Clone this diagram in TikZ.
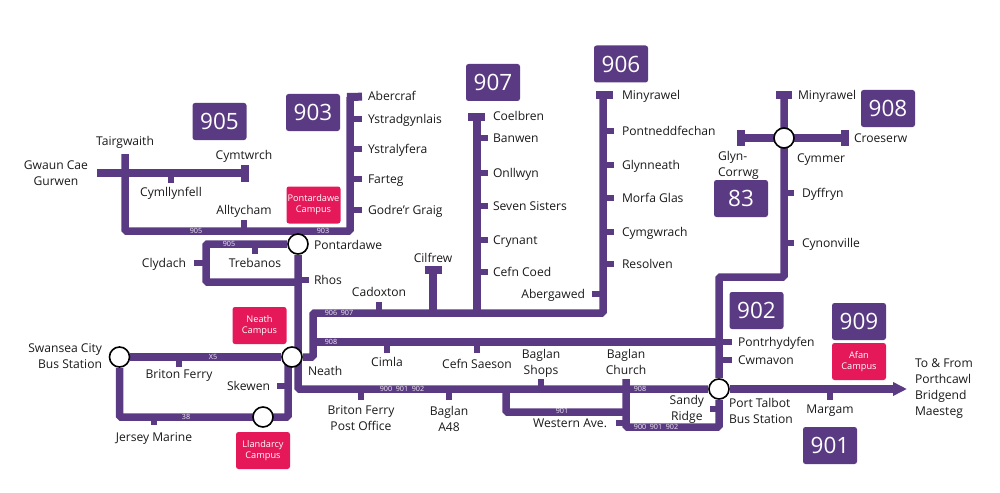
\documentclass[tikz,border=0pt]{standalone}
\usepackage{fontspec}
\setmainfont{Open Sans}
\usetikzlibrary{positioning,arrows.meta,backgrounds}
\definecolor{bus}{HTML}{5A3A82}
\definecolor{college}{HTML}{E5185A}
\definecolor{tiny}{HTML}{F2EEF7}
\begin{document}
\begin{tikzpicture}[x=1pt,y=-1pt,>=stealth]
\tikzstyle{place}=[font=\fontsize{12.1}{16}\selectfont,text height=10.5pt,text depth=1pt,inner xsep=6pt,inner ysep=2.5pt,outer sep=0pt,text=black!90]
\tikzstyle{twolines}=[font=\fontsize{12.1}{16}\selectfont,align=center,inner xsep=6pt,inner ysep=1pt,outer sep=0pt,text=black!90]
\tikzstyle{stop}=[circle,draw=black,line width=1.6pt,fill=white,minimum size=20pt,inner sep=0pt]
\tikzstyle{busno}=[fill=bus,text=white,rounded corners=2.5pt,minimum width=54pt,minimum height=37pt,inner sep=0pt,font=\fontsize{22.5}{22}\selectfont]
\tikzstyle{campus}=[fill=college,text=white,rounded corners=2.5pt,minimum width=54pt,minimum height=37pt,inner sep=0pt,align=center,font=\fontsize{9.2}{11}\selectfont]
\tikzstyle{small}=[text=tiny,inner sep=0pt,font=\fontsize{7.2}{7}\selectfont]
\tikzstyle{route}=[draw=bus,line width=7.5pt,rounded corners=1.5pt]
\tikzstyle{stub}=[draw=bus,line width=5.5pt]
\tikzstyle{bar}=[draw=bus,line width=8pt]
\useasboundingbox (0,0) rectangle (1000,492);
% route numbers
\node[busno] (b905) at (219.5,121.5) {905};
\node[busno] (b903) at (313,112.5) {903};
\node[busno] (b907) at (493,82.5) {907};
\node[busno] (b906) at (621,64) {906};
\node[busno] (b908) at (888,108.5) {908};
\node[busno] (b83) at (741,198.5) {83};
\node[busno] (b902) at (756.5,310.5) {902};
\node[busno] (b909) at (859,321.5) {909};
\node[busno] (b901) at (830,445.5) {901};
% campuses
\node[campus] (pontcampus) at (313.5,205) {Pontardawe\\Campus};
\node[campus] (neathcampus) at (259.5,325.5) {Neath\\Campus};
\node[campus] (llancampus) at (263,450.5) {Llandarcy\\Campus};
\node[campus] (afancampus) at (859,361.5) {Afan\\Campus};
% interchanges
\node[stop] (pontardawe) at (298,244) {};
\node[stop] (neath) at (292,357) {};
\node[stop] (swansea) at (119.5,357) {};
\node[stop] (llandarcy) at (263,417) {};
\node[stop] (porttalbot) at (719,389) {};
\node[stop] (cymmer) at (784,138) {};
% corners of the lines
\coordinate (tairfoot) at (125,231);
\coordinate (aberfoot) at (350,231);
\coordinate (abertop) at (350,97);
\coordinate (cymtwrch) at (245,173);
\coordinate (loopa) at (206,244);
\coordinate (loopb) at (206,282);
\coordinate (loopc) at (298,282);
\coordinate (spinefoot) at (298,389);
\coordinate (swanfoot) at (119.5,417);
\coordinate (neathfoot) at (288,417);
\coordinate (neathtop) at (288,358);
\coordinate (bendlow) at (313,357);
\coordinate (bendhigh) at (313,313);
\coordinate (foot906) at (603,313);
\coordinate (top906) at (603,95);
\coordinate (top907) at (477,117);
\coordinate (topcilfrew) at (433,270);
\coordinate (left908) at (313,342);
\coordinate (right908) at (719,342);
\coordinate (bendb) at (719,277);
\coordinate (bendc) at (784,277);
\coordinate (topcymmer) at (784,95);
\coordinate (glyn) at (741,138);
\coordinate (croes) at (845,138);
\coordinate (shopa) at (506,389);
\coordinate (shopb) at (506,412);
\coordinate (shopc) at (626,412);
\coordinate (churchfoot) at (626,427);
\coordinate (talbotfoot) at (719,427);
\coordinate (arrowend) at (907,389);
% places on 905 and 903
\node[place,anchor=south,inner ysep=7.25pt] (tairgwaith) at (125,154) {Tairgwaith};
\node[twolines,anchor=east,inner xsep=9pt] (gwaun) at (97,173) {Gwaun Cae\\Gurwen};
\node[place,anchor=north] (cymllynfell) at (171,183) {Cymllynfell};
\node[place] (cymtwrchl) at (244,155) {Cymtwrch};
\node[place,anchor=south,inner ysep=4.5pt] (alltycham) at (244,220) {Alltycham};
\node[place,anchor=west] (abercraf) at (362,96) {Abercraf};
\node[place,anchor=west] (ystradgynlais) at (362,119) {Ystradgynlais};
\node[place,anchor=west] (ystralyfera) at (362,149) {Ystralyfera};
\node[place,anchor=west] (farteg) at (362,179) {Farteg};
\node[place,anchor=west] (godre) at (362,210) {Godre’r Graig};
\node[place,anchor=west,inner xsep=16pt] at (298,245) (pontl) {Pontardawe};
\node[place,anchor=north] (trebanos) at (255,254) {Trebanos};
\node[place,anchor=east,inner xsep=8pt] (clydach) at (194,263) {Clydach};
\node[place,anchor=west,inner xsep=5pt] (rhos) at (309,280) {Rhos};
% places on 906 and 907
\node[place,anchor=south,inner ysep=4.5pt] (cadoxton) at (379,302) {Cadoxton};
\node[place] (cilfrew) at (433,258) {Cilfrew};
\node[place,anchor=west,inner xsep=5pt] (coelbren) at (488,116) {Coelbren};
\node[place,anchor=west,inner xsep=5pt] (banwen) at (488,138) {Banwen};
\node[place,anchor=west,inner xsep=5pt] (onllwyn) at (488,173) {Onllwyn};
\node[place,anchor=west,inner xsep=5pt] (seven) at (488,206) {Seven Sisters};
\node[place,anchor=west,inner xsep=5pt] (crynant) at (488,240) {Crynant};
\node[place,anchor=west,inner xsep=5pt] (cefncoed) at (488,272) {Cefn Coed};
\node[place,anchor=west,inner xsep=8pt] (minya) at (614,95) {Minyrawel};
\node[place,anchor=west,inner xsep=8pt] (pontned) at (614,131) {Pontneddfechan};
\node[place,anchor=west,inner xsep=8pt] (glynneath) at (614,165) {Glynneath};
\node[place,anchor=west,inner xsep=8pt] (morfa) at (614,198) {Morfa Glas};
\node[place,anchor=west,inner xsep=8pt] (cymgwrach) at (614,232) {Cymgwrach};
\node[place,anchor=west,inner xsep=8pt] (resolven) at (614,264) {Resolven};
\node[place,anchor=east,inner xsep=7pt] (abergawed) at (592,294) {Abergawed};
% places on 908 and 902
\node[place,anchor=west] (pontrhydyfen) at (732,342) {Pontrhydyfen};
\node[place,anchor=west] (cwmavon) at (732,360) {Cwmavon};
\node[place,anchor=north] (cimla) at (387,353) {Cimla};
\node[place,anchor=north,inner ysep=5pt] (cefnsaeson) at (477,353) {Cefn Saeson};
\node[place,anchor=west,inner xsep=8pt] (dyffryn) at (794,193) {Dyffryn};
\node[place,anchor=west,inner xsep=8pt] (cynonville) at (794,243) {Cynonville};
\node[place,anchor=west,inner xsep=0pt] (minyb) at (798,95) {Minyrawel};
\node[place,anchor=west,inner xsep=0pt] (croeserw) at (854,138) {Croeserw};
\node[place,anchor=west,inner xsep=0pt] (cymmerl) at (797,158) {Cymmer};
\node[twolines,anchor=north west,align=left,inner xsep=0pt] (glyncorrwg) at (718,150) {Glyn-\\Corrwg};
% places at the bottom
\node[twolines,anchor=east,align=right,inner xsep=0pt] (swanl) at (102,356) {Swansea City\\Bus Station};
\node[place,anchor=north,inner ysep=1pt] (britonferry) at (179,367) {Briton Ferry};
\node[place,anchor=north,inner ysep=6pt] (jersey) at (154,425) {Jersey Marine};
\node[place,anchor=east,inner xsep=7pt] (skewen) at (277,386) {Skewen};
\node[place,anchor=west,inner xsep=0pt] (neathl) at (308,371) {Neath};
\node[twolines,anchor=north,inner ysep=6pt] (britonpost) at (361,400) {Briton Ferry\\Post Office};
\node[twolines,anchor=north,inner ysep=6pt] (baglana) at (449,400) {Baglan\\A48};
\node[twolines,anchor=south,inner ysep=2pt] (baglanshops) at (541,379) {Baglan\\Shops};
\node[twolines,anchor=south,inner ysep=4pt] (baglanchurch) at (626,379) {Baglan\\Church};
\node[place,anchor=east,inner xsep=9pt] (western) at (616,423) {Western Ave.};
\node[twolines,anchor=east,inner xsep=6pt] (sandy) at (710,409) {Sandy\\Ridge};
\node[twolines,anchor=north west,align=left,inner xsep=0pt] (talbotl) at (729,397) {Port Talbot\\Bus Station};
\node[place,anchor=north] (margam) at (830,400) {Margam};
\node[twolines,anchor=west,align=left,inner xsep=0pt] (tofrom) at (915,388.5) {To \& From\\Porthcawl\\Bridgend\\Maesteg};
% numbers on the lines
\node[small] (n905a) at (196,231) {905};
\node[small] (n903) at (323,231) {903};
\node[small] (n905b) at (229,244) {905};
\node[small] (nx5) at (213,357) {X5};
\node[small] (n38) at (186,417) {38};
\node[small] (n906) at (339,313) {906\enspace 907};
\node[small] (n908a) at (331,342) {908};
\node[small] (n900a) at (402,389) {900\enspace 901\enspace 902};
\node[small] (n908b) at (640,389) {908};
\node[small] (n901) at (562,411) {901};
\node[small] (n900b) at (656,427) {900\enspace 901\enspace 902};
\begin{scope}[on background layer]
\draw[route] (tairgwaith) -- (tairfoot) -- (aberfoot) -- (abertop);
\draw[route] (gwaun) -- (cymtwrch);
\draw[bar] ([yshift=-8.5pt]cymtwrch) -- ([yshift=8.5pt]cymtwrch);
\draw[route] (pontardawe) -- (loopa) -- (loopb) -- (loopc);
\draw[route] (pontardawe) -- (spinefoot) -- (porttalbot);
\draw[route] (swansea) -- (neath);
\draw[route] (swansea) -- (swanfoot) -- (neathfoot) -- (neathtop);
\draw[route] (neath) -- (bendlow) -- (bendhigh) -- (foot906) -- (top906);
\draw[route] (top907) -- (top907 |- foot906);
\draw[route] (topcilfrew) -- (topcilfrew |- foot906);
\draw[route] (left908) -- (right908);
\draw[route] (porttalbot) -- (bendb) -- (bendc) -- (topcymmer);
\draw[route] (glyn) -- (croes);
\draw[route] (shopa) -- (shopb) -- (shopc);
\draw[route] (baglanchurch) -- (churchfoot) -- (talbotfoot) -- (porttalbot);
\draw[route,-{Triangle[length=14pt,width=13pt]}] (porttalbot) -- (arrowend);
% end bars
\draw[bar] ([xshift=-7pt]top906) -- ([xshift=10pt]top906);
\draw[bar] ([xshift=-9pt]top907) -- ([xshift=8pt]top907);
\draw[bar] ([xshift=-8.5pt]topcilfrew) -- ([xshift=8.5pt]topcilfrew);
\draw[bar] ([xshift=-8pt]topcymmer) -- ([xshift=8pt]topcymmer);
\draw[bar] (abercraf) -- ([xshift=-3pt]abertop);
\draw[bar] ([yshift=-8pt]glyn) -- ([yshift=8pt]glyn);
\draw[bar] ([yshift=-8pt]croes) -- ([yshift=8pt]croes);
% stubs
\draw[stub] (cymllynfell) -- (cymllynfell |- gwaun);
\draw[stub] (alltycham) -- (alltycham |- tairfoot);
\draw[stub] (ystradgynlais) -- (ystradgynlais -| abertop);
\draw[stub] (ystralyfera) -- (ystralyfera -| abertop);
\draw[stub] (farteg) -- (farteg -| abertop);
\draw[stub] (godre) -- (godre -| abertop);
\draw[stub] (trebanos) -- (trebanos |- pontardawe);
\draw[stub] (clydach) -- (clydach -| loopa);
\draw[stub] (rhos) -- (rhos -| pontardawe);
\draw[stub] (cadoxton) -- (cadoxton |- foot906);
\draw[stub] (banwen) -- (banwen -| top907);
\draw[stub] (onllwyn) -- (onllwyn -| top907);
\draw[stub] (seven) -- (seven -| top907);
\draw[stub] (crynant) -- (crynant -| top907);
\draw[stub] (cefncoed) -- (cefncoed -| top907);
\draw[stub] (pontned) -- (pontned -| top906);
\draw[stub] (glynneath) -- (glynneath -| top906);
\draw[stub] (morfa) -- (morfa -| top906);
\draw[stub] (cymgwrach) -- (cymgwrach -| top906);
\draw[stub] (resolven) -- (resolven -| top906);
\draw[stub] (abergawed) -- (abergawed -| top906);
\draw[stub] (pontrhydyfen) -- (pontrhydyfen -| right908);
\draw[stub] (cwmavon) -- (cwmavon -| right908);
\draw[stub] (cimla) -- (cimla |- right908);
\draw[stub] (cefnsaeson) -- (cefnsaeson |- right908);
\draw[stub] (dyffryn) -- (dyffryn -| cymmer);
\draw[stub] (cynonville) -- (cynonville -| cymmer);
\draw[stub] (britonferry) -- (britonferry |- swansea);
\draw[stub] (jersey) -- (jersey |- swanfoot);
\draw[stub] (skewen) -- (skewen -| neathfoot);
\draw[stub] (britonpost) -- (britonpost |- spinefoot);
\draw[stub] (baglana) -- (baglana |- spinefoot);
\draw[stub] (baglanshops) -- (baglanshops |- spinefoot);
\draw[stub] (western) -- (western -| churchfoot);
\draw[stub] (sandy) -- (sandy -| talbotfoot);
\draw[stub] (margam) -- (margam |- spinefoot);
\end{scope}
\end{tikzpicture}
\end{document}
